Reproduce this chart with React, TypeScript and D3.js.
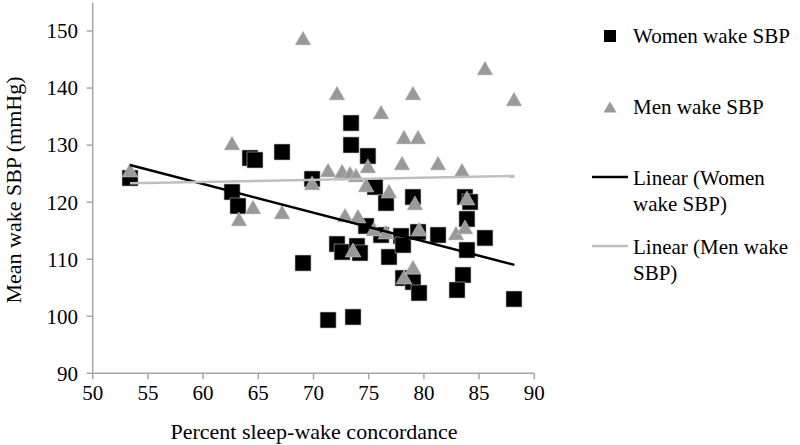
import React from "react";
import * as d3 from "d3";

const womenX = [53.38, 62.62, 63.16, 64.25, 64.70, 67.15, 69.05, 69.87, 71.32, 72.13, 72.59, 73.40, 73.40, 73.58, 73.94, 74.21, 74.93, 75.57, 76.57, 74.76, 76.12, 76.84, 77.93, 78.11, 79.01, 79.47, 81.28, 78.11, 79.01, 79.56, 83.72, 84.18, 83.90, 85.53, 83.90, 83.54, 83.00, 88.16];
const womenY = [124.23, 121.78, 119.33, 127.74, 127.39, 128.79, 109.33, 124.06, 99.34, 112.66, 111.26, 133.87, 130.02, 99.87, 112.31, 111.09, 128.09, 122.66, 119.85, 115.82, 114.24, 110.39, 114.07, 112.49, 120.9, 114.77, 114.24, 106.7, 106.0, 104.08, 120.9, 120.03, 117.05, 113.72, 111.61, 107.23, 104.6, 103.02];

const menX = [53.38, 62.62, 63.25, 64.52, 67.15, 69.05, 69.87, 71.32, 72.13, 72.59, 72.86, 73.31, 73.58, 73.85, 74.03, 74.76, 74.93, 75.48, 76.12, 76.57, 76.84, 78.02, 78.2, 78.2, 79.01, 79.01, 79.19, 79.47, 79.56, 81.28, 82.91, 83.45, 83.72, 83.90, 85.53, 88.16];
const menY = [125.64, 130.37, 117.05, 119.15, 118.27, 148.77, 123.36, 125.64, 139.13, 125.46, 117.75, 125.11, 111.61, 124.76, 117.57, 123.0, 126.34, 115.29, 135.8, 114.77, 121.95, 126.86, 131.42, 106.88, 139.13, 108.63, 119.85, 131.42, 115.29, 126.86, 114.59, 125.64, 115.64, 120.73, 143.51, 138.08];

// Linear trendline endpoints
const trendX = [53.38, 88.2];
const womenTrendY = [126.5, 109.0];
const menTrendY = [123.3, 124.6];

const xTicks = [50, 55, 60, 65, 70, 75, 80, 85, 90];
const yTicks = [90, 100, 110, 120, 130, 140, 150];

const legendItems = ["Women wake SBP", "Men wake SBP"];
const legendLines = [["Linear (Women", "wake SBP)"], ["Linear (Men wake", "SBP)"]];

const FONT = "'Liberation Serif', 'Times New Roman', serif";
const AXIS = "#a6a6a6";
const TRI = "#999999";
const GRAYLINE = "#bfbfbf";

export default function App() {
  const x = d3.scaleLinear().domain([50, 90]).range([92.7, 534.3]);
  const y = d3.scaleLinear().domain([90, 150]).range([373.3, 31]);
  const yTop = y(155);

  const sq = 16;
  const triW = 16;
  const triH = 14;
  const triPath = (cx: number, cy: number, w: number, h: number) =>
    `M${cx - w / 2},${cy + h / 2}L${cx + w / 2},${cy + h / 2}L${cx},${cy - h / 2}Z`;

  const line = d3
    .line<[number, number]>()
    .x((d) => x(d[0]))
    .y((d) => y(d[1]));

  const womenTrend: [number, number][] = trendX.map((v, i) => [v, womenTrendY[i]]);
  const menTrend: [number, number][] = trendX.map((v, i) => [v, menTrendY[i]]);

  return (
    <svg
      width={800}
      height={445}
      style={{ position: "absolute", left: 0, top: 0, background: "#fff" }}
      fontFamily={FONT}
    >
      <rect width={800} height={445} fill="#fff" />
      {/* axes */}
      <line x1={x(50)} x2={x(50)} y1={yTop} y2={y(90)} stroke={AXIS} strokeWidth={1.5} />
      <line x1={x(50)} x2={x(90)} y1={y(90)} y2={y(90)} stroke={AXIS} strokeWidth={1.5} />
      {yTicks.map((t) => (
        <g key={"yt" + t}>
          <line x1={x(50) - 6} x2={x(50)} y1={y(t)} y2={y(t)} stroke={AXIS} strokeWidth={1.5} />
          <text x={78} y={y(t)} dy="0.35em" textAnchor="end" fontSize={21} fill="#000">
            {t}
          </text>
        </g>
      ))}
      {xTicks.map((t) => (
        <g key={"xt" + t}>
          <line x1={x(t)} x2={x(t)} y1={y(90)} y2={y(90) + 6} stroke={AXIS} strokeWidth={1.5} />
          <text x={x(t)} y={400} textAnchor="middle" fontSize={21} fill="#000">
            {t}
          </text>
        </g>
      ))}
      <text x={314} y={439} textAnchor="middle" fontSize={22} fill="#000">
        Percent sleep-wake concordance
      </text>
      <text transform="translate(21,190) rotate(-90)" textAnchor="middle" fontSize={22} fill="#000">
        Mean wake SBP (mmHg)
      </text>

      {/* women squares */}
      {womenX.map((v, i) => (
        <rect
          key={"w" + i}
          x={x(v) - sq / 2}
          y={y(womenY[i]) - sq / 2}
          width={sq}
          height={sq}
          fill="#000"
          stroke="#bbb"
          strokeWidth={0.6}
        />
      ))}
      {/* men triangles */}
      {menX.map((v, i) => (
        <path key={"m" + i} d={triPath(x(v), y(menY[i]), triW, triH)} fill={TRI} stroke="#d0d0d0" strokeWidth={0.5} />
      ))}

      {/* trendlines */}
      <path d={line(womenTrend) || ""} stroke="#000" strokeWidth={2.5} fill="none" />
      <path d={line(menTrend) || ""} stroke={GRAYLINE} strokeWidth={2.5} fill="none" />

      {/* legend */}
      <rect x={604} y={30} width={12} height={12} fill="#000" />
      <text x={633} y={43} fontSize={21} fill="#000">{legendItems[0]}</text>
      <path d={triPath(610, 107, 13, 11)} fill={TRI} />
      <text x={633} y={114} fontSize={21} fill="#000">{legendItems[1]}</text>

      <line x1={592} x2={628} y1={177} y2={177} stroke="#000" strokeWidth={2.5} />
      <text x={633} y={185} fontSize={21} fill="#000">{legendLines[0][0]}</text>
      <text x={633} y={211} fontSize={21} fill="#000">{legendLines[0][1]}</text>

      <line x1={592} x2={628} y1={246} y2={246} stroke={GRAYLINE} strokeWidth={2.5} />
      <text x={633} y={254} fontSize={21} fill="#000">{legendLines[1][0]}</text>
      <text x={633} y={280} fontSize={21} fill="#000">{legendLines[1][1]}</text>
    </svg>
  );
}
